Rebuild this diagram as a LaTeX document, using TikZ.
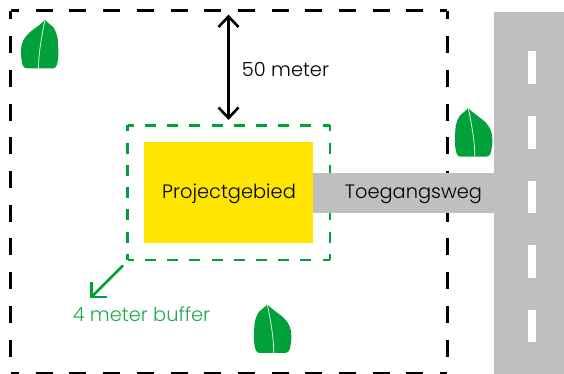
\documentclass[tikz,border=0pt]{standalone}
\usepackage{fontspec}
\setmainfont{Poppins Light}
\definecolor{leafgreen}{HTML}{00A13A}
\definecolor{textgreen}{HTML}{1EAB4E}
\definecolor{roadgray}{HTML}{BFBFBF}
\definecolor{siteyellow}{HTML}{FFE600}
\tikzset{
  outerline/.style={black,line width=3pt,dash pattern=on 17pt off 16.7pt,dash phase=8.5pt},
  bufferline/.style={leafgreen,line width=2.7pt,dash pattern=on 11pt off 11.2pt,dash phase=5pt},
  roadfill/.style={fill=roadgray,draw=none},
  marking/.style={fill=white,draw=none,minimum width=8pt,minimum height=32.5pt,inner sep=0pt},
  label/.style={font=\fontsize{19.4}{23}\selectfont,inner sep=0pt,anchor=base},
  leaf/.pic={
    \fill[leafgreen] (0,0) .. controls (3,4) and (8,7) .. (13,11)
      .. controls (17,14) and (20,17.5) .. (21.7,21)
      .. controls (23.3,24.5) and (24,28) .. (24,31)
      .. controls (24.2,35) and (23.8,38) .. (23.3,41)
      .. controls (22.8,45) and (22,48.7) .. (18,48.9)
      -- (-8,48.9) .. controls (-11,48.9) and (-12.3,45) .. (-12.8,41)
      .. controls (-13.4,37) and (-13.6,34) .. (-13.3,31)
      .. controls (-13.3,27) and (-13,23) .. (-12.7,19)
      .. controls (-11.8,14) and (-10,10.5) .. (-8.3,7.7)
      .. controls (-6,5.5) and (-2,3) .. (0,0) -- cycle;
    \draw[white,line width=0.7pt] (0,0) .. controls (1,6) and (6.5,30) .. (6.5,49);
  }
}
\begin{document}
\begin{tikzpicture}[x=1pt,y=-1pt]
\useasboundingbox (0,0) rectangle (564,374);
% outer dashed rectangle
\coordinate (otl) at (10.5,11);
\coordinate (otr) at (447,11);
\coordinate (obl) at (10.5,373);
\coordinate (obr) at (447,373);
\draw[outerline] (otl)--(otr) (obl)--(obr) (otl)--(obl) (otr)--(obr);
% buffer rectangle
\coordinate (btl) at (127.7,125.5);
\coordinate (btr) at (330,125.5);
\coordinate (bbl) at (127.7,260);
\coordinate (bbr) at (330,260);
\draw[bufferline] (btl)--(btr) (bbl)--(bbr) (btl)--(bbl) (btr)--(bbr);
% roads
\fill[roadfill] (494,12) rectangle (564,374);
\fill[roadfill] (313,173) rectangle (494,213);
\foreach \n/\y in {a/67.5,b/132.3,c/197,d/261.5,e/326}
  \node[marking] (mark\n) at (532,\y) {};
% site
\fill[siteyellow] (144,142) rectangle (313,243);
% leaves
\pic[xscale=-1] at (45,19.5) {leaf};
\pic at (468.3,107.7) {leaf};
\pic at (267.3,304) {leaf};
% arrows
\coordinate (atop) at (228.5,16.5);
\coordinate (abot) at (228.5,118);
\draw[black,line width=2.6pt] (218.5,27) -- (atop) -- (238.5,27);
\draw[black,line width=2.6pt] (218.5,107.5) -- (abot) -- (238.5,107.5);
\draw[black,line width=2.6pt] (atop) -- (abot);
\coordinate (gstart) at (123,265.5);
\coordinate (gend) at (91.5,297);
\draw[leafgreen,line width=2.6pt] (gstart) -- (gend);
\draw[leafgreen,line width=2.6pt] (91.5,282) -- (gend) -- (106.5,297);
% labels
\node[label] (meter) at (285.5,77) {50 meter};
\node[label] (project) at (229,198) {Projectgebied};
\node[label] (weg) at (413.5,198) {Toegangsweg};
\node[label,text=textgreen] (buffer) at (141.5,321.5) {4 meter buffer};
\end{tikzpicture}
\end{document}
